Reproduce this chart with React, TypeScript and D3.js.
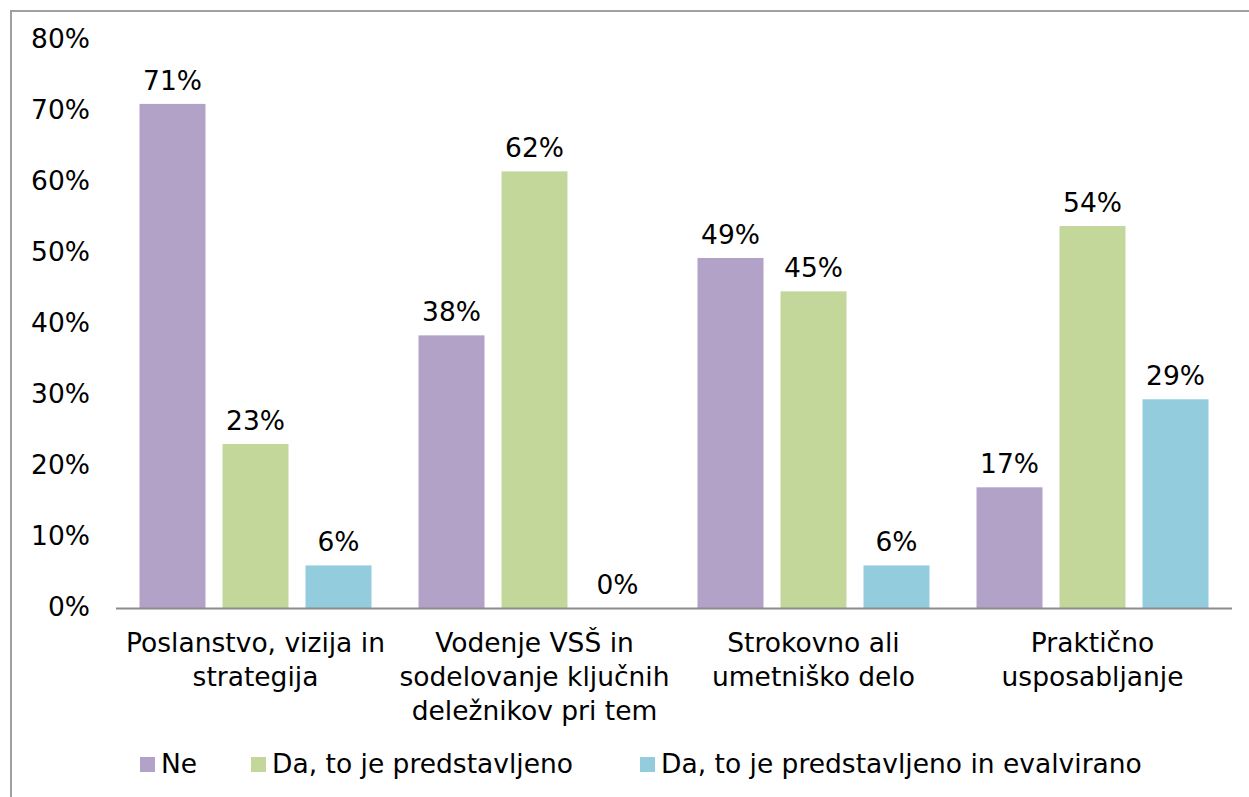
import React, { useEffect, useRef } from 'react';
import * as d3 from 'd3';

const categories = [
  ['Poslanstvo, vizija in', 'strategija'],
  ['Vodenje VSŠ in', 'sodelovanje ključnih', 'deležnikov pri tem'],
  ['Strokovno ali', 'umetniško delo'],
  ['Praktično', 'usposabljanje'],
];
const seriesNames = ['Ne', 'Da, to je predstavljeno', 'Da, to je predstavljeno in evalvirano'];
const ne = [71, 38.4, 49.3, 17];
const daPredstavljeno = [23.1, 61.5, 44.6, 53.8];
const daEvalvirano = [6, 0, 6, 29.4];
const colors = ['#B3A2C7', '#C4D79B', '#93CDDD'];
const yTicks = [0, 10, 20, 30, 40, 50, 60, 70, 80];

const App = () => {
  const svgRef = useRef<SVGSVGElement>(null);
  const width = 1249;
  const height = 797;

  useEffect(() => {
    const svg = d3.select(svgRef.current);
    svg.selectAll('*').remove();
    const font = '"DejaVu Sans", Verdana, sans-serif';
    const fs = '26.5px';

    // okvir
    svg.append('rect')
      .attr('x', 11).attr('y', 11)
      .attr('width', width + 20).attr('height', height + 20)
      .attr('fill', '#fff').attr('stroke', '#a0a0a0').attr('stroke-width', 2);

    const left = 116, right = 1232, top = 40, bottom = 608;
    const x = d3.scaleBand<number>().domain(d3.range(categories.length)).range([left, right]).paddingInner(0).paddingOuter(0);
    const y = d3.scaleLinear().domain([0, 80]).range([bottom, top]);
    const bw = x.bandwidth();
    const barW = 66, gap = 17;
    const groupW = barW * 3 + gap * 2;
    const series = [ne, daPredstavljeno, daEvalvirano];

    // y oznake
    svg.append('g').selectAll('text').data(yTicks).enter().append('text')
      .attr('x', 90).attr('y', d => y(d) + 7.5)
      .attr('text-anchor', 'end')
      .style('font-family', font).style('font-size', fs).style('fill', '#000')
      .text(d => `${d}%`);

    // stolpci
    series.forEach((vals, si) => {
      const g = svg.append('g');
      vals.forEach((v, ci) => {
        const bx = (x(ci) as number) + (bw - groupW) / 2 + si * (barW + gap);
        g.append('rect')
          .attr('x', bx).attr('y', y(v))
          .attr('width', barW).attr('height', bottom - y(v))
          .attr('fill', colors[si]);
        g.append('text')
          .attr('x', bx + barW / 2).attr('y', y(v) - 14)
          .attr('text-anchor', 'middle')
          .style('font-family', font).style('font-size', fs).style('fill', '#000')
          .text(`${Math.round(v)}%`);
      });
    });

    // os x
    svg.append('line')
      .attr('x1', left).attr('x2', right).attr('y1', bottom + 0.5).attr('y2', bottom + 0.5)
      .attr('stroke', '#8c8c8c').attr('stroke-width', 2);

    categories.forEach((lines, ci) => {
      const t = svg.append('text')
        .attr('text-anchor', 'middle')
        .style('font-family', font).style('font-size', fs).style('fill', '#000');
      lines.forEach((ln, li) => {
        t.append('tspan')
          .attr('x', (x(ci) as number) + bw / 2)
          .attr('y', 652 + li * 34)
          .text(ln);
      });
    });

    // legenda
    const legendX = [140, 251, 640];
    seriesNames.forEach((name, i) => {
      svg.append('rect')
        .attr('x', legendX[i]).attr('y', 757)
        .attr('width', 15).attr('height', 15)
        .attr('fill', colors[i]);
      svg.append('text')
        .attr('x', legendX[i] + 21).attr('y', 773)
        .style('font-family', font).style('font-size', fs).style('fill', '#000')
        .text(name);
    });
  }, []);

  return (
    <div style={{ position: 'absolute', left: 0, top: 0, width, height, background: '#fff' }}>
      <svg ref={svgRef} width={width} height={height} />
    </div>
  );
};

export default App;
